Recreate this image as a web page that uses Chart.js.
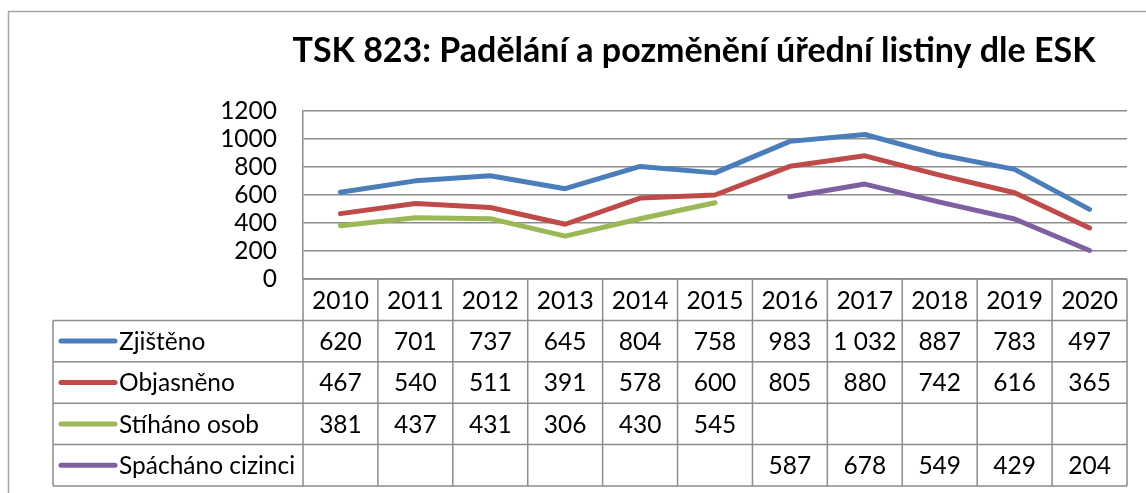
<!DOCTYPE html>
<html>
<head>
<meta charset="utf-8">
<script src="https://cdn.jsdelivr.net/npm/chart.js@4.4.1/dist/chart.umd.min.js"></script>
<style>
  body { margin: 0; background: #fff; }
  canvas { display: block; }
</style>
</head>
<body>
<canvas id="tskChart" width="1146" height="493"></canvas>
<script>
// Data
const chartTitle = 'TSK 823: Padělání a pozměnění úřední listiny dle ESK';
const years = ['2010', '2011', '2012', '2013', '2014', '2015', '2016', '2017', '2018', '2019', '2020'];
const zjisteno = [620, 701, 737, 645, 804, 758, 983, 1032, 887, 783, 497];
const objasneno = [467, 540, 511, 391, 578, 600, 805, 880, 742, 616, 365];
const stihanoOsob = [381, 437, 431, 306, 430, 545, null, null, null, null, null];
const spachanoCizinci = [null, null, null, null, null, null, 587, 678, 549, 429, 204];
const yTicks = [0, 200, 400, 600, 800, 1000, 1200];

const FONT = 'Lato, "Open Sans", sans-serif';
const TEXT_SIZE = 24.5;
const GRID = '#8c8c8c';

function fmt(v) {
    // Czech style thousands separator
    return String(v).replace(/\B(?=(\d{3})+(?!\d))/g, ' ');
}

// Draws the frame, the title and the data table under the plot
const tablePlugin = {
    id: 'dataTable',
    afterDraw(chart) {
        const ctx = chart.ctx;
        const x = chart.scales.x;
        const area = chart.chartArea;
        const colW = (area.right - area.left) / years.length;
        const rowH = 41.4;
        const tableLeft = 53;
        const top = area.bottom;
        const rows = chart.data.datasets.length;
        const bottom = top + rowH * (rows + 1);

        ctx.save();

        // outer frame (clipped by the canvas on the right and bottom)
        ctx.strokeStyle = '#a6a6a6';
        ctx.lineWidth = 1.5;
        ctx.strokeRect(8.5, 11.5, 1400, 800);

        // title
        ctx.fillStyle = '#000';
        ctx.font = 'bold 34px ' + FONT;
        ctx.textAlign = 'center';
        ctx.textBaseline = 'alphabetic';
        ctx.fillText(chartTitle, 694, 62);

        // grid of the table
        ctx.strokeStyle = GRID;
        ctx.lineWidth = 1.5;
        ctx.beginPath();
        ctx.moveTo(area.left, top);
        ctx.lineTo(area.right, top);
        for (let r = 1; r <= rows + 1; r++) {
            const y = top + rowH * r;
            ctx.moveTo(tableLeft, y);
            ctx.lineTo(area.right, y);
        }
        ctx.moveTo(tableLeft, top + rowH);
        ctx.lineTo(tableLeft, bottom);
        for (let c = 0; c <= years.length; c++) {
            const cx = area.left + colW * c;
            ctx.moveTo(cx, top);
            ctx.lineTo(cx, bottom);
        }
        ctx.stroke();

        ctx.font = TEXT_SIZE + 'px ' + FONT;
        ctx.textBaseline = 'middle';
        ctx.fillStyle = '#000';

        // header row with years
        ctx.textAlign = 'center';
        years.forEach((yr, i) => {
            ctx.fillText(yr, x.getPixelForValue(i), top + rowH / 2 + 1);
        });

        // series rows
        chart.data.datasets.forEach((ds, r) => {
            const cy = top + rowH * (r + 1.5);
            ctx.strokeStyle = ds.borderColor;
            ctx.lineWidth = 5;
            ctx.lineCap = 'round';
            ctx.beginPath();
            ctx.moveTo(61, cy);
            ctx.lineTo(115, cy);
            ctx.stroke();

            ctx.textAlign = 'left';
            ctx.fillText(ds.label, 119, cy + 1);

            ctx.textAlign = 'center';
            ds.data.forEach((v, i) => {
                if (v === null) return;
                ctx.fillText(fmt(v), x.getPixelForValue(i), cy + 1);
            });
        });

        ctx.restore();
    }
};

function series(label, data, color) {
    return {
        label: label,
        data: data,
        borderColor: color,
        backgroundColor: color,
        borderWidth: 5,
        pointRadius: 0,
        tension: 0,
        spanGaps: false,
        borderJoinStyle: 'round',
        borderCapStyle: 'round'
    };
}

new Chart(document.getElementById('tskChart'), {
    type: 'line',
    data: {
        labels: years,
        datasets: [
            series('Zjištěno', zjisteno, '#4a7ebb'),
            series('Objasněno', objasneno, '#be4b48'),
            series('Stíháno osob', stihanoOsob, '#98b954'),
            series('Spácháno cizinci', spachanoCizinci, '#7d60a0')
        ]
    },
    options: {
        responsive: false,
        animation: false,
        layout: { padding: { top: 111, right: 19, left: 0, bottom: 0 } },
        plugins: {
            legend: { display: false },
            title: { display: false },
            tooltip: { enabled: false }
        },
        scales: {
            x: {
                offset: true,
                grid: { display: false },
                border: { display: false },
                ticks: { display: false },
                afterFit: function (scale) { scale.height = 214; }
            },
            y: {
                min: 0,
                max: 1200,
                afterBuildTicks: function (scale) {
                    scale.ticks = yTicks.map(v => ({ value: v }));
                },
                grid: { color: GRID, lineWidth: 1.5, drawTicks: false },
                border: { display: true, color: GRID, width: 1.5 },
                ticks: {
                    color: '#000',
                    padding: 26,
                    autoSkip: false,
                    font: { family: FONT, size: TEXT_SIZE },
                    callback: function (value) { return String(value); }
                },
                afterFit: function (scale) { scale.width = 303; }
            }
        }
    },
    plugins: [tablePlugin]
});
</script>
</body>
</html>
